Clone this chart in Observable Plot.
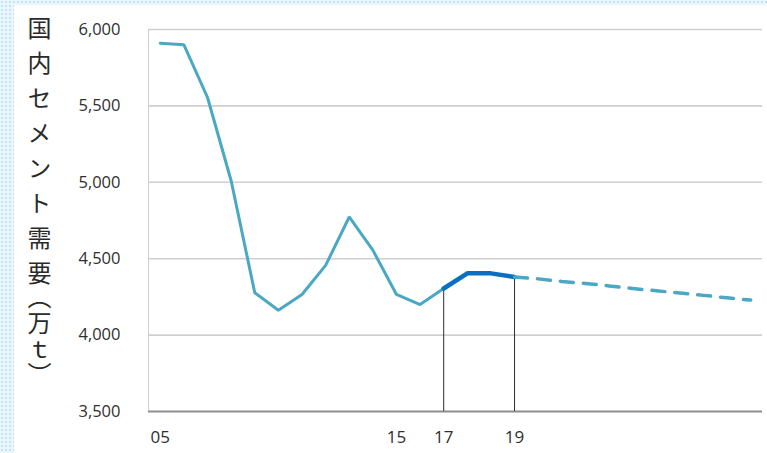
<!DOCTYPE html>
<html>
<head>
<meta charset="utf-8">
<script src="https://cdn.jsdelivr.net/npm/d3@7"></script>
<script src="https://cdn.jsdelivr.net/npm/@observablehq/plot@0.6"></script>
<style>
  html, body { margin: 0; padding: 0; }
  #wrap {
    position: relative; width: 767px; height: 453px; overflow: hidden;
    background-color: #eaf6fd;
    background-image: radial-gradient(#c4e4f5 0.9px, transparent 1.3px);
    background-size: 4px 4px;
  }
  #panel { position: absolute; left: 14px; top: 5px; right: 0; bottom: 0; background: #fff; }
  #chart { position: absolute; left: 0; top: 0; }
  #ytitle {
    position: absolute; left: 27px; top: 16px;
    writing-mode: vertical-rl; text-orientation: mixed;
    font-family: "Noto Sans CJK JP", sans-serif; font-size: 24px; color: #2a2a2a;
    line-height: 1;
  }
  #ytitle .main { letter-spacing: 11px; }
  #ytitle .unit { letter-spacing: 3px; font-feature-settings: "vpal"; }
</style>
</head>
<body>
<div id="wrap">
  <div id="panel"></div>
  <div id="chart"></div>
  <div id="ytitle"><span class="main"></span><span class="unit"></span></div>
</div>
<script>
// Domestic cement demand (10,000 t), one step per period
const actualSteps  = [0, 1, 2, 3, 4, 5, 6, 7, 8, 9, 10, 11, 12, 13, 14, 15];
const actualValues = [5910, 5900, 5555, 5010, 4277, 4163, 4266, 4456, 4773, 4556, 4266, 4200, 4305, 4404, 4404, 4380];

// Highlighted recent segment (17 → 19)
const highlightSteps = [12, 13, 14, 15];

// Outlook beyond 19
const forecastSteps  = [15, 16, 17, 18, 19, 20, 21, 22, 23, 24, 25];
const forecastValues = [4380, 4368, 4351, 4338, 4322, 4305, 4290, 4275, 4260, 4244, 4229];

// Axis ticks
const xTickSteps  = [0, 10, 12, 15];
const xTickLabels = ["05", "15", "17", "19"];
const yTicks = [3500, 4000, 4500, 5000, 5500, 6000];
const markerSteps = [12, 15];

const yTitleMain = "国内セメント需要";
const yTitleUnit = "（万ｔ）";

const actual = actualSteps.map((s, i) => ({step: s, value: actualValues[i]}));
const highlight = actual.filter(d => highlightSteps.includes(d.step));
const forecast = forecastSteps.map((s, i) => ({step: s, value: forecastValues[i]}));
const markers = actual.filter(d => markerSteps.includes(d.step));

const font = "'Open Sans', 'Noto Sans', sans-serif";

const chart = Plot.plot({
  width: 767,
  height: 453,
  marginLeft: 148,
  marginRight: 5,
  marginTop: 29,
  marginBottom: 42,
  style: {background: "transparent", fontFamily: font, color: "#2f2f2f", overflow: "visible"},
  x: {domain: [-0.5, 25.5], axis: null},
  y: {domain: [3500, 6000], axis: null},
  marks: [
    Plot.gridY(yTicks.slice(1), {stroke: "#cfcfcf", strokeOpacity: 1, strokeWidth: 1.6}),
    Plot.ruleX([-0.5], {stroke: "#d2d2d2", strokeWidth: 1.2}),
    Plot.ruleY([3500], {stroke: "#8e8e8e", strokeWidth: 2}),
    Plot.axisY(yTicks, {tickSize: 0, tickPadding: 28, fontSize: 16.5, label: null,
      tickFormat: d3.format(",")}),
    Plot.axisX(xTickSteps, {tickSize: 0, tickPadding: 19, fontSize: 17, label: null,
      tickFormat: d => xTickLabels[xTickSteps.indexOf(d)]}),
    Plot.ruleX(markers, {x: "step", y1: 3500, y2: "value", stroke: "#2e2e2e", strokeWidth: 1}),
    Plot.line(actual, {x: "step", y: "value", stroke: "#4aa8c4", strokeWidth: 3, strokeLinejoin: "miter"}),
    Plot.line(highlight, {x: "step", y: "value", stroke: "#0a6fc2", strokeWidth: 4.5}),
    Plot.line(forecast, {x: "step", y: "value", stroke: "#4aa8c4", strokeWidth: 3.5, strokeDasharray: "13,10"})
  ]
});

document.getElementById("chart").append(chart);
document.querySelector("#ytitle .main").textContent = yTitleMain;
document.querySelector("#ytitle .unit").textContent = yTitleUnit;
</script>
</body>
</html>
